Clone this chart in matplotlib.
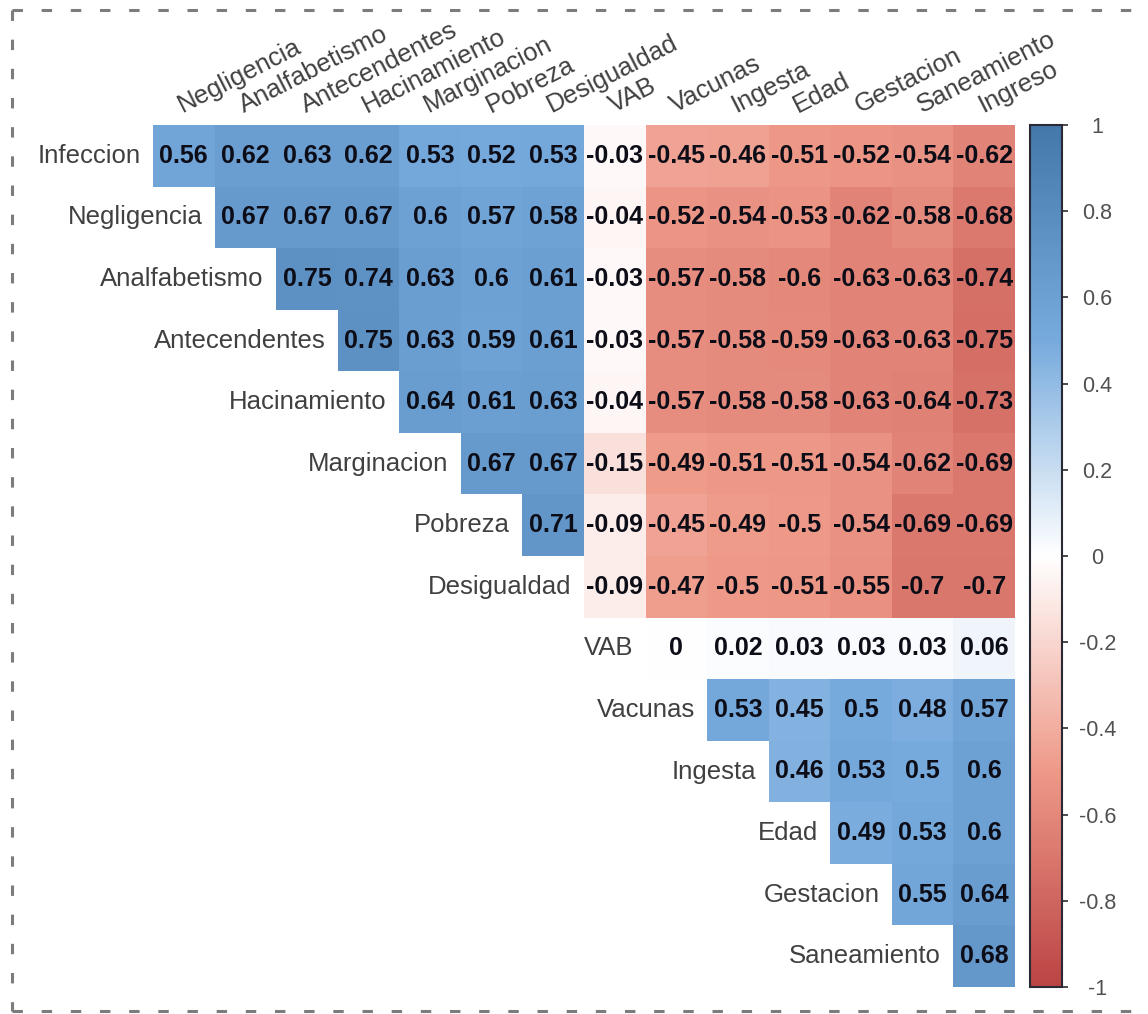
import numpy as np
import matplotlib
matplotlib.use("Agg")
import matplotlib.pyplot as plt
from matplotlib.colors import LinearSegmentedColormap, Normalize
from matplotlib.lines import Line2D

# Variable names, in matrix order
labels = ["Infeccion", "Negligencia", "Analfabetismo", "Antecendentes",
          "Hacinamiento", "Marginacion", "Pobreza", "Desigualdad", "VAB",
          "Vacunas", "Ingesta", "Edad", "Gestacion", "Saneamiento", "Ingreso"]

# Upper triangle of the correlation matrix, one list per row (diagonal left out)
infeccion = [0.56, 0.62, 0.63, 0.62, 0.53, 0.52, 0.53, -0.03, -0.45, -0.46, -0.51, -0.52, -0.54, -0.62]
negligencia = [0.67, 0.67, 0.67, 0.6, 0.57, 0.58, -0.04, -0.52, -0.54, -0.53, -0.62, -0.58, -0.68]
analfabetismo = [0.75, 0.74, 0.63, 0.6, 0.61, -0.03, -0.57, -0.58, -0.6, -0.63, -0.63, -0.74]
antecendentes = [0.75, 0.63, 0.59, 0.61, -0.03, -0.57, -0.58, -0.59, -0.63, -0.63, -0.75]
hacinamiento = [0.64, 0.61, 0.63, -0.04, -0.57, -0.58, -0.58, -0.63, -0.64, -0.73]
marginacion = [0.67, 0.67, -0.15, -0.49, -0.51, -0.51, -0.54, -0.62, -0.69]
pobreza = [0.71, -0.09, -0.45, -0.49, -0.5, -0.54, -0.69, -0.69]
desigualdad = [-0.09, -0.47, -0.5, -0.51, -0.55, -0.7, -0.7]
vab = [0, 0.02, 0.03, 0.03, 0.03, 0.06]
vacunas = [0.53, 0.45, 0.5, 0.48, 0.57]
ingesta = [0.46, 0.53, 0.5, 0.6]
edad = [0.49, 0.53, 0.6]
gestacion = [0.55, 0.64]
saneamiento = [0.68]

rows = [infeccion, negligencia, analfabetismo, antecendentes, hacinamiento,
        marginacion, pobreza, desigualdad, vab, vacunas, ingesta, edad,
        gestacion, saneamiento]
row_names = labels[:-1]
col_names = labels[1:]

cbar_ticks = [1, 0.8, 0.6, 0.4, 0.2, 0, -0.2, -0.4, -0.6, -0.8, -1]

# Build the matrix: row r holds columns r..end
n = len(row_names)
mat = np.full((n, n), np.nan)
for r, vals in enumerate(rows):
    mat[r, r:] = vals

plt.rcParams["font.family"] = ["Liberation Sans", "DejaVu Sans"]
plt.rcParams["lines.scale_dashes"] = False

cmap = LinearSegmentedColormap.from_list(
    "corr", ["#BB4444", "#EE9988", "#FFFFFF", "#77AADD", "#4477AA"])
norm = Normalize(vmin=-1, vmax=1)

W, H = 1148, 1014
fig = plt.figure(figsize=(W / 100, H / 100), dpi=100)

# grid area in pixels
gx0, gx1, gy0, gy1 = 153, 1015, 125, 987
ax = fig.add_axes([gx0 / W, 1 - gy1 / H, (gx1 - gx0) / W, (gy1 - gy0) / H])
mesh = ax.pcolormesh(np.arange(n + 1), np.arange(n + 1),
                     np.ma.masked_invalid(mat), cmap=cmap, norm=norm)
ax.set_xlim(0, n)
ax.set_ylim(n, 0)
ax.axis("off")

txt_col = "#404040"
for r in range(n):
    for c in range(r, n):
        v = mat[r, c]
        ax.text(c + 0.5, r + 0.5, "{:g}".format(round(v, 2)),
                ha="center", va="center", fontsize=18,
                fontweight="bold", color="#0d0d18")
    ax.text(r - 0.2, r + 0.5, row_names[r], ha="right", va="center",
            fontsize=18.5, color=txt_col, clip_on=False)

for c in range(n):
    ax.text(c + 0.48, -0.2, col_names[c], rotation=27,
            rotation_mode="anchor", ha="left", va="baseline",
            fontsize=18.5, color=txt_col, clip_on=False)

# colour legend on the right
cax = fig.add_axes([1030 / W, 1 - gy1 / H, 32 / W, (gy1 - gy0) / H])
cbar = fig.colorbar(mesh, cax=cax, ticks=cbar_ticks)
cbar.ax.set_yticklabels(["{:g}".format(t) for t in cbar_ticks])
cbar.outline.set_edgecolor("#2a2a35")
cbar.outline.set_linewidth(1.5)
cbar.ax.tick_params(length=4.5, width=1.2, color="#2a2a35", pad=21,
                    labelsize=15.5, labelcolor="#505050")
for lab in cbar.ax.get_yticklabels():
    lab.set_ha("center")

# dashed frame round the figure
dash = dict(color="#7c7c7c", lw=2.2, dashes=(7.5, 13.5))
fx0, fx1 = 12 / W, 1.0
fy_top, fy_bot = 1 - 10 / H, 1 - 1011 / H
fig.add_artist(Line2D([fx0, fx1], [fy_top, fy_top], transform=fig.transFigure, **dash))
fig.add_artist(Line2D([fx0, fx1], [fy_bot, fy_bot], transform=fig.transFigure, **dash))
fig.add_artist(Line2D([fx0, fx0], [fy_top, fy_bot], transform=fig.transFigure, **dash))

fig.savefig("out.png", dpi=100)
